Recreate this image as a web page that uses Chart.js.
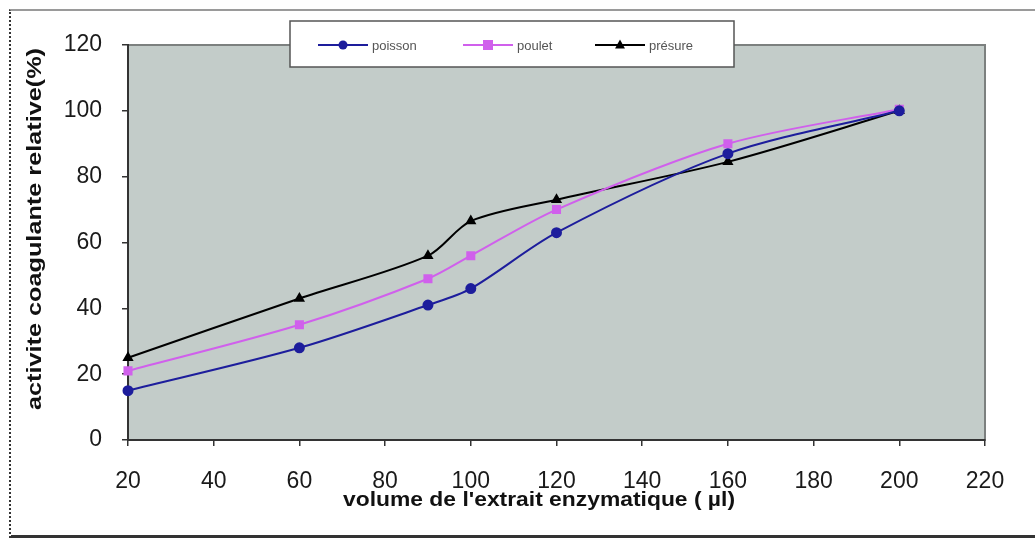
<!DOCTYPE html>
<html>
<head>
<meta charset="utf-8">
<script src="https://cdn.jsdelivr.net/npm/chart.js@4/dist/chart.umd.min.js"></script>
<style>
  html, body { margin: 0; padding: 0; background: #fff; }
  #wrap { position: relative; width: 1035px; height: 543px; }
  #frame {
    position: absolute; left: 9px; top: 9px; width: 1026px; height: 529px;
    border-top: 2px solid #9a9a9a; border-left: 2px dotted #333; border-bottom: 3px solid #333;
    box-sizing: border-box; pointer-events: none;
  }
  canvas { position: absolute; left: 0; top: 0; }
</style>
</head>
<body>
<div id="wrap">
  <div id="frame"></div>
  <canvas id="myChart" width="1035" height="543"></canvas>
</div>
<script>
const volumes = [20, 60, 90, 100, 120, 160, 200];
const poisson = [15, 28, 41, 46, 63, 87, 100];
const poulet = [21, 35, 49, 56, 70, 90, 100.5];
const presure = [25, 43, 56, 66.5, 73, 84.5, 100];
const seriesNames = ['poisson', 'poulet', 'présure'];
const xTicks = [20, 40, 60, 80, 100, 120, 140, 160, 180, 200, 220];
const yTicks = [0, 20, 40, 60, 80, 100, 120];

function points(vals){
  return volumes.map((v, i) => ({x: v, y: vals[i]}));
}

function serie(label, vals, color, style, radius){
  return {
    label: label,
    data: points(vals),
    borderColor: color,
    backgroundColor: color,
    borderWidth: 2,
    pointStyle: style,
    pointRadius: radius,
    tension: 0.3,
    clip: false
  };
}

// gray plot background + frame
const plotBg = {
  id: 'plotBg',
  beforeDraw(chart){
    const {ctx, chartArea: a} = chart;
    ctx.save();
    ctx.fillStyle = '#c3ccc9';
    ctx.fillRect(a.left, a.top, a.right - a.left, a.bottom - a.top);
    ctx.strokeStyle = '#7c807f';
    ctx.lineWidth = 2;
    ctx.strokeRect(a.left, a.top, a.right - a.left, a.bottom - a.top);
    ctx.restore();
  }
};

function marker(ctx, style, x, y, r, color){
  ctx.fillStyle = color;
  ctx.beginPath();
  if (style === 'circle') {
    ctx.arc(x, y, r, 0, Math.PI * 2);
  } else if (style === 'rect') {
    ctx.rect(x - r, y - r, r * 2, r * 2);
  } else {
    ctx.moveTo(x, y - r * 1.2);
    ctx.lineTo(x + r * 1.1, y + r * 0.8);
    ctx.lineTo(x - r * 1.1, y + r * 0.8);
    ctx.closePath();
  }
  ctx.fill();
}

// legend box and axis titles
const extras = {
  id: 'extras',
  afterDraw(chart){
    const ctx = chart.ctx;
    ctx.save();
    // legend
    ctx.fillStyle = '#ffffff';
    ctx.fillRect(290, 21, 444, 46);
    ctx.strokeStyle = '#555';
    ctx.lineWidth = 1.5;
    ctx.strokeRect(290, 21, 444, 46);
    const items = [318, 463, 595];
    chart.data.datasets.forEach((ds, i) => {
      const x0 = items[i], y0 = 45;
      ctx.strokeStyle = ds.borderColor;
      ctx.lineWidth = 2;
      ctx.beginPath();
      ctx.moveTo(x0, y0);
      ctx.lineTo(x0 + 50, y0);
      ctx.stroke();
      marker(ctx, ds.pointStyle, x0 + 25, y0, ds.pointRadius, ds.borderColor);
      ctx.fillStyle = '#555';
      ctx.font = '13px Arial, "Liberation Sans", sans-serif';
      ctx.textAlign = 'left';
      ctx.textBaseline = 'middle';
      ctx.fillText(ds.label, x0 + 54, y0 + 1);
    });

    // axis titles
    ctx.fillStyle = '#111';
    ctx.font = 'bold 17px Arial, "Liberation Sans", sans-serif';
    ctx.textAlign = 'center';
    ctx.textBaseline = 'middle';
    const xt = "volume de l'extrait enzymatique ( µl)";
    let w = ctx.measureText(xt).width;
    ctx.save();
    ctx.translate(539, 501);
    ctx.scale(392 / w, 1.15);
    ctx.fillText(xt, 0, 0);
    ctx.restore();

    const yt = 'activite coagulante relative(%)';
    w = ctx.measureText(yt).width;
    ctx.save();
    ctx.translate(36, 229);
    ctx.rotate(-Math.PI / 2);
    ctx.scale(362 / w, 1.15);
    ctx.fillText(yt, 0, 0);
    ctx.restore();
    ctx.restore();
  }
};

const tickFont = { size: 23, family: 'Arial, "Liberation Sans", sans-serif' };

const ctx = document.getElementById('myChart');
new Chart(ctx, {
  type: 'line',
  data: {
    datasets: [
      serie(seriesNames[0], poisson, '#1d1d9c', 'circle', 4.5),
      serie(seriesNames[1], poulet, '#d060ec', 'rect', 5),
      serie(seriesNames[2], presure, '#000000', 'triangle', 4.5)
    ]
  },
  options: {
    responsive: false,
    animation: false,
    layout: { padding: { left: 10, top: 45, right: 50, bottom: 0 } },
    plugins: { legend: { display: false }, tooltip: { enabled: false } },
    scales: {
      x: {
        type: 'linear',
        min: 20, max: 220,
        afterFit(scale){ scale.height = 103; },
        afterBuildTicks(scale){ scale.ticks = xTicks.map(v => ({value: v})); },
        grid: { drawOnChartArea: false, tickLength: 6, color: '#333', lineWidth: 1.5 },
        border: { color: '#333', width: 2 },
        ticks: { color: '#1a1a1a', font: tickFont, padding: 22, maxRotation: 0 }
      },
      y: {
        min: 0, max: 120,
        afterFit(scale){ scale.width = 118; },
        afterBuildTicks(scale){ scale.ticks = yTicks.map(v => ({value: v})); },
        grid: { drawOnChartArea: false, tickLength: 6, color: '#333', lineWidth: 1.5 },
        border: { color: '#333', width: 2 },
        ticks: { color: '#1a1a1a', font: tickFont, padding: 20 }
      }
    }
  },
  plugins: [plotBg, extras]
});
</script>
</body>
</html>
